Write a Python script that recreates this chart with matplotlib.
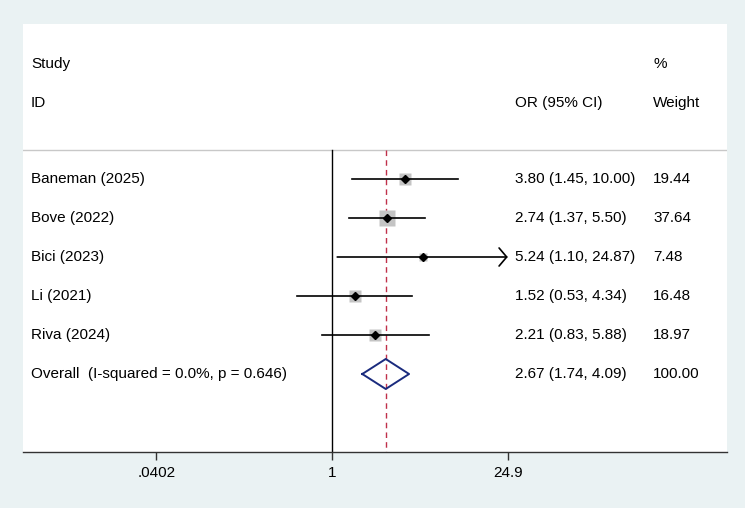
import numpy as np
import matplotlib
matplotlib.use("Agg")
import matplotlib.pyplot as plt

studies = ["Baneman (2025)", "Bove (2022)", "Bici (2023)", "Li (2021)", "Riva (2024)"]
or_vals = [3.80, 2.74, 5.24, 1.52, 2.21]
ci_low = [1.45, 1.37, 1.10, 0.53, 0.83]
ci_high = [10.00, 5.50, 24.87, 4.34, 5.88]
weights = [19.44, 37.64, 7.48, 16.48, 18.97]
overall_label = "Overall  (I-squared = 0.0%, p = 0.646)"
overall = [2.67, 1.74, 4.09]
overall_weight = 100.00
tick_vals = [0.0402, 1, 24.9]
tick_labels = [".0402", "1", "24.9"]

plt.rcParams['font.family'] = ['Liberation Sans', 'DejaVu Sans']
FS = 11
BG = '#EAF2F3'

fig = plt.figure(figsize=(7.45, 5.08), dpi=100, facecolor=BG)
W, H = 745, 508
x0, x1, ytop, ybot = 23, 727, 24, 452
ax = fig.add_axes([x0 / W, (H - ybot) / H, (x1 - x0) / W, (ybot - ytop) / H])
ax.set_facecolor('white')

# x: log scale; 54.7 px per ln unit, 1 at px 332
ppl = 54.7
xmin = np.exp((x0 - 332) / ppl)
xmax = np.exp((x1 - 332) / ppl)
ax.set_xscale('log')
ax.set_xlim(xmin, xmax)
def row(px):
    return 1 + (px - 179) / 39.0
ax.set_ylim(row(ybot), row(ytop))

clip_hi = 1 / tick_vals[0]

line_top = row(150)
ax.axhline(line_top, color='#C8C8C8', lw=1)
ax.plot([1, 1], [line_top, row(ybot)], color='black', lw=1)
ax.plot([overall[0]] * 2, [line_top, row(ybot)], color='#C0304A', lw=1,
        dashes=(4, 3))

ypos = np.arange(1, len(studies) + 1)
for i, y in enumerate(ypos):
    lo, hi = ci_low[i], ci_high[i]
    side = 12.0 * np.sqrt(weights[i] / max(weights))
    ax.plot(or_vals[i], y, marker='s', ms=side, color='#C4C4C4', mec='none', zorder=2)
    if hi >= clip_hi * 0.999:
        ax.annotate('', xy=(clip_hi, y), xytext=(lo, y),
                    arrowprops=dict(arrowstyle='->,head_length=0.55,head_width=0.65',
                                    mutation_scale=10, lw=1.2, color='black',
                                    shrinkA=0, shrinkB=0), zorder=3)
    else:
        ax.plot([lo, hi], [y, y], color='black', lw=1.2, zorder=3)
    ax.plot(or_vals[i], y, marker='D', ms=4, color='black', zorder=4)

# overall diamond
yo = len(studies) + 1
hh = 15 / 39.0
dx = [overall[1], overall[0], overall[2], overall[0], overall[1]]
dy = [yo, yo - hh, yo, yo + hh, yo]
ax.plot(dx, dy, color='#1A2B7E', lw=1.4, zorder=4)

tr = ax.get_yaxis_transform()
def fx(px):
    return (px - x0) / (x1 - x0)

ax.text(fx(31), row(64), "Study", transform=tr, fontsize=FS, va='center')
ax.text(fx(31), row(103), "ID", transform=tr, fontsize=FS, va='center')
ax.text(fx(515), row(103), "OR (95% CI)", transform=tr, fontsize=FS, va='center')
ax.text(fx(653), row(64), "%", transform=tr, fontsize=FS, va='center')
ax.text(fx(653), row(103), "Weight", transform=tr, fontsize=FS, va='center')

for i, y in enumerate(ypos):
    ax.text(fx(31), y, studies[i], transform=tr, fontsize=FS, va='center')
    ax.text(fx(515), y, f"{or_vals[i]:.2f} ({ci_low[i]:.2f}, {ci_high[i]:.2f})",
            transform=tr, fontsize=FS, va='center')
    ax.text(fx(653), y, f"{weights[i]:.2f}", transform=tr, fontsize=FS, va='center')
ax.text(fx(31), yo, overall_label, transform=tr, fontsize=FS, va='center')
ax.text(fx(515), yo, f"{overall[0]:.2f} ({overall[1]:.2f}, {overall[2]:.2f})",
        transform=tr, fontsize=FS, va='center')
ax.text(fx(653), yo, f"{overall_weight:.2f}", transform=tr, fontsize=FS, va='center')

for s in ['top', 'right', 'left']:
    ax.spines[s].set_visible(False)
ax.spines['bottom'].set_color('#333333')
ax.spines['bottom'].set_linewidth(1)
ax.set_yticks([])
ax.set_xticks(tick_vals)
ax.set_xticklabels(tick_labels, fontsize=FS)
ax.xaxis.set_minor_locator(matplotlib.ticker.NullLocator())
ax.tick_params(axis='x', length=6, width=1, color='#333333', pad=4)

fig.savefig("out.png", dpi=100, facecolor=BG)
